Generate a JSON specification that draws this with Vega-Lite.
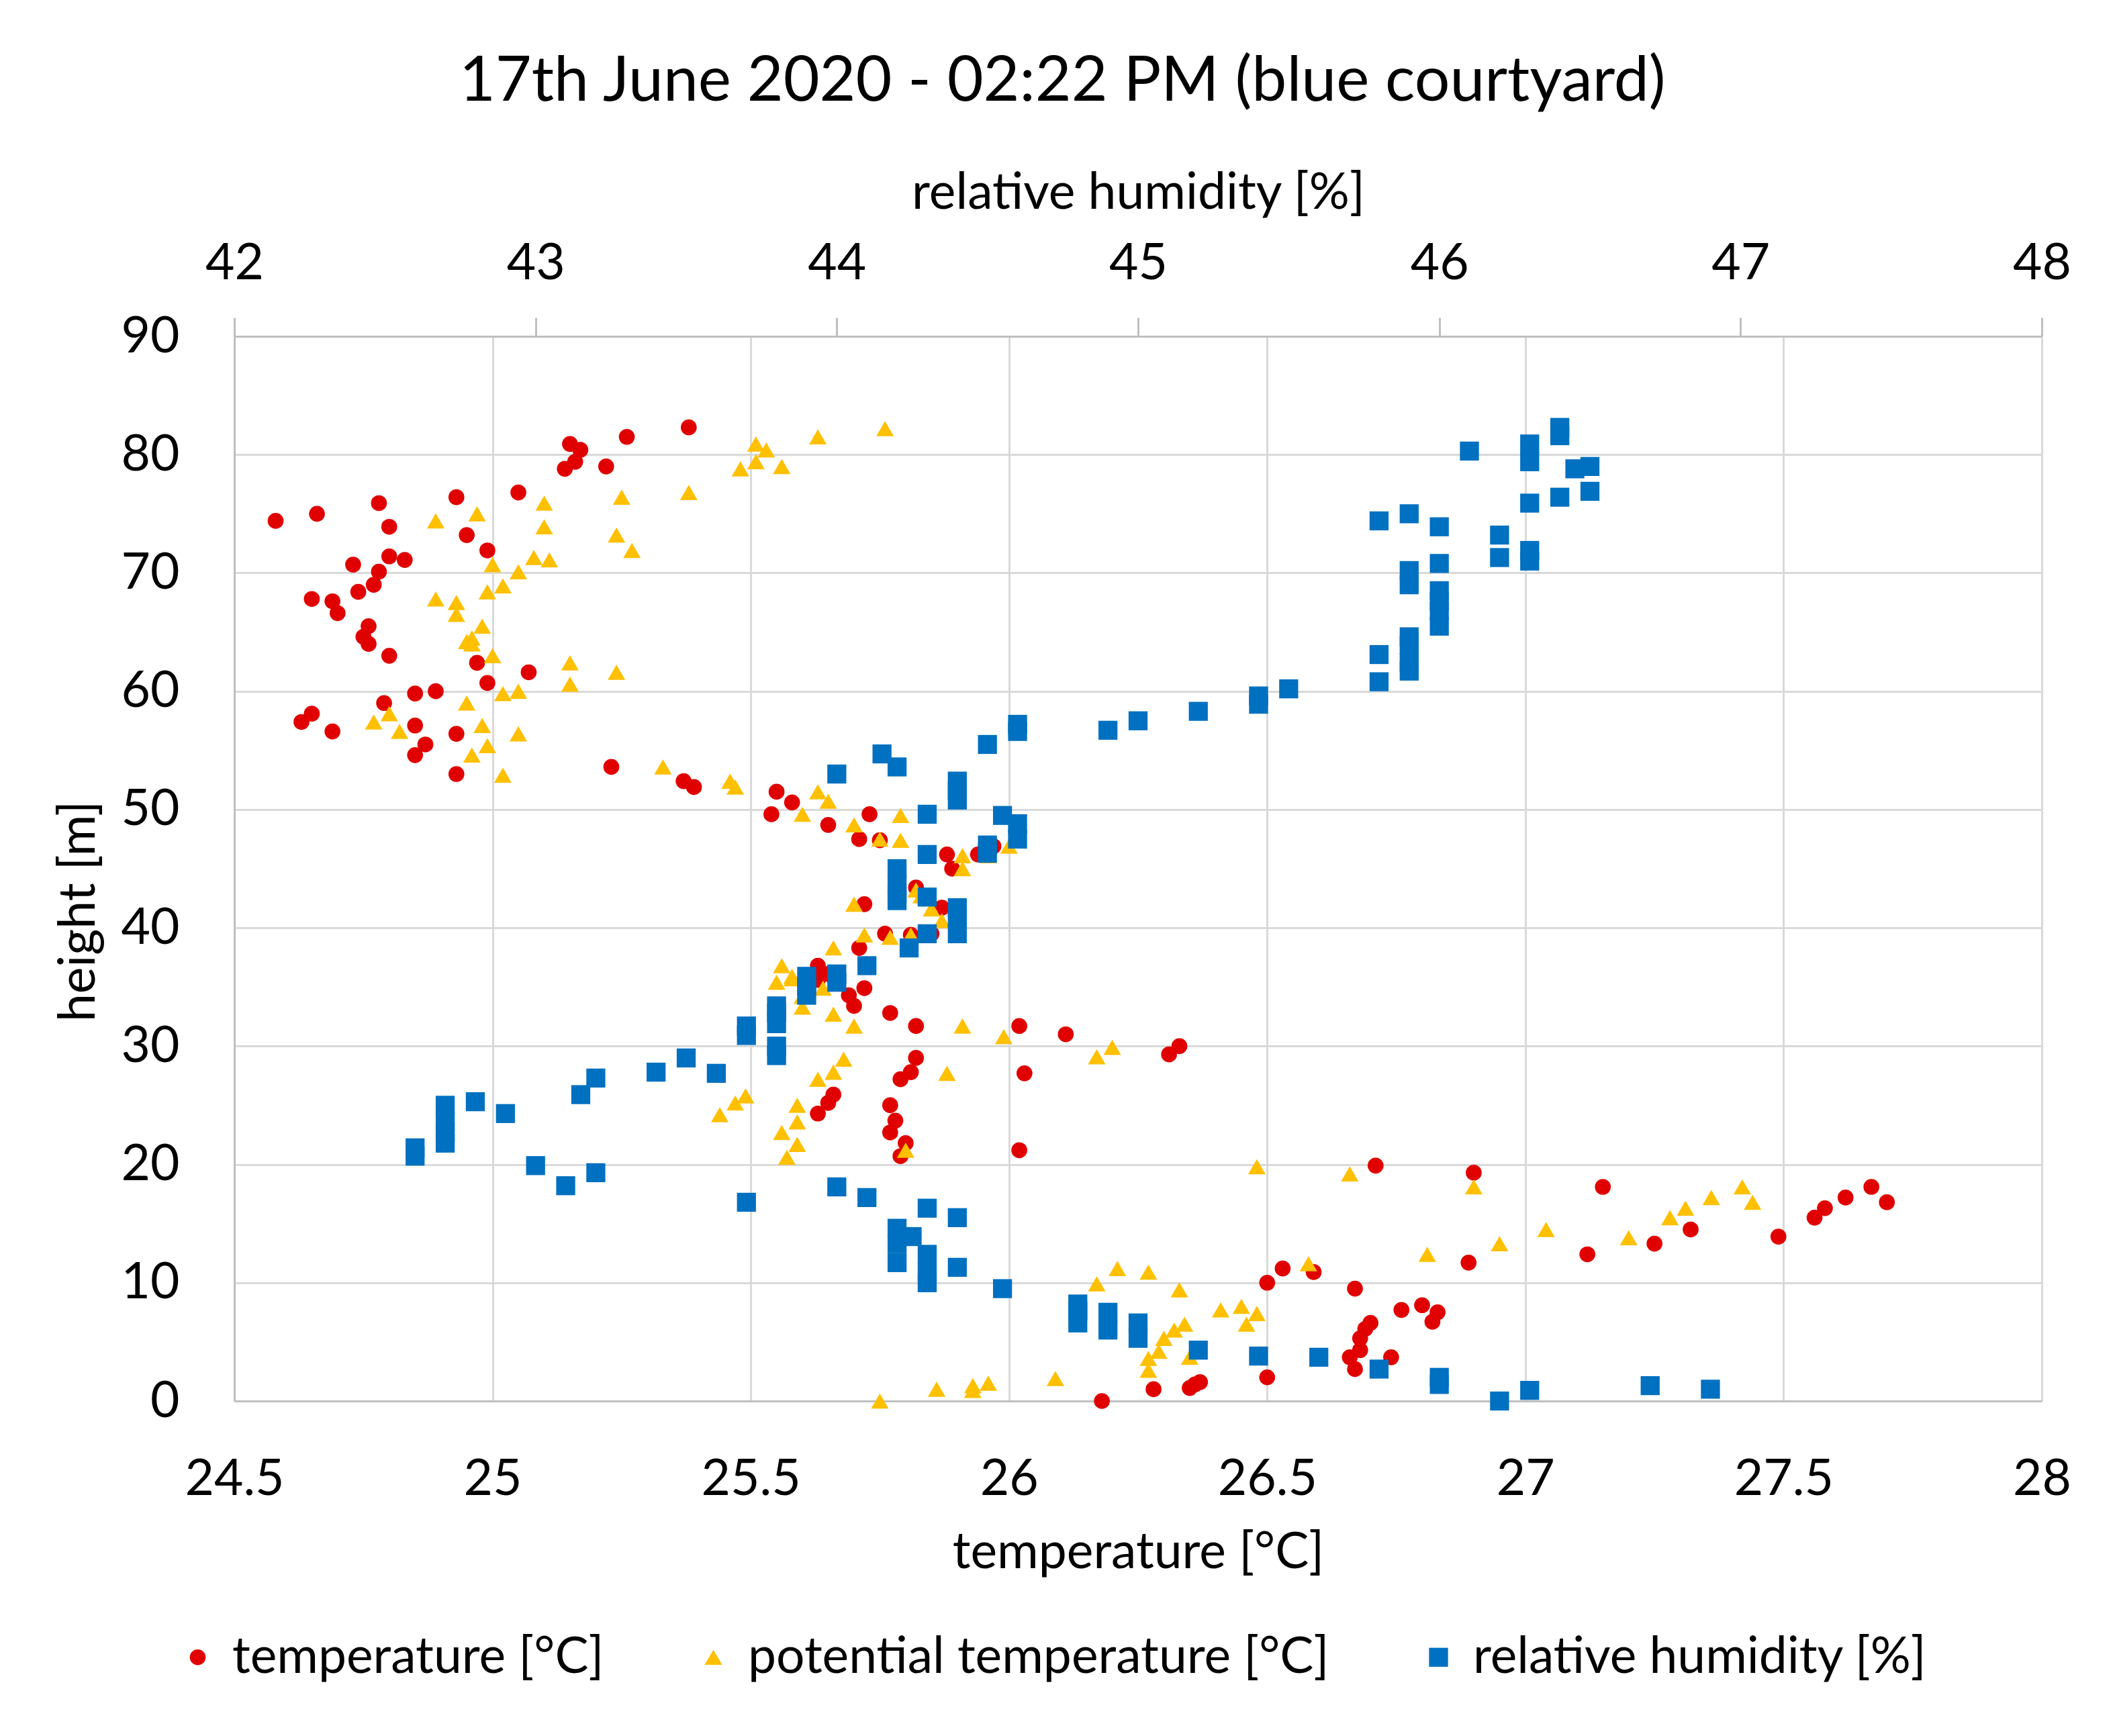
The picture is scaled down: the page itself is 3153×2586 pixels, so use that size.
{
  "$schema": "https://vega.github.io/schema/vega-lite/v6.json",
  "width": 2692,
  "height": 1586,
  "autosize": {"type": "none"},
  "padding": {"left": 349, "top": 501, "right": 112, "bottom": 499},
  "background": "white",
  "title": {
    "text": "17th June 2020 - 02:22 PM (blue courtyard)",
    "font": "Lato",
    "fontSize": 93,
    "fontWeight": "normal",
    "color": "black",
    "anchor": "middle",
    "frame": "bounds",
    "offset": 80
  },
  "datasets": {
    "pts": [
      {"s": "T", "x": 24.58, "h": 74.4}, {"s": "T", "x": 24.66, "h": 75.0}, {"s": "T", "x": 24.78, "h": 75.9}, {"s": "T", "x": 24.93, "h": 76.4},
      {"s": "T", "x": 25.05, "h": 76.8}, {"s": "T", "x": 24.80, "h": 73.9}, {"s": "T", "x": 24.95, "h": 73.2}, {"s": "T", "x": 24.99, "h": 71.9},
      {"s": "T", "x": 25.15, "h": 80.9}, {"s": "T", "x": 25.17, "h": 80.4}, {"s": "T", "x": 25.16, "h": 79.4}, {"s": "T", "x": 25.14, "h": 78.8},
      {"s": "T", "x": 25.22, "h": 79.0}, {"s": "T", "x": 25.26, "h": 81.5}, {"s": "T", "x": 25.38, "h": 82.3}, {"s": "T", "x": 24.73, "h": 70.7},
      {"s": "T", "x": 24.78, "h": 70.1}, {"s": "T", "x": 24.80, "h": 71.4}, {"s": "T", "x": 24.83, "h": 71.1}, {"s": "T", "x": 24.77, "h": 69.0},
      {"s": "T", "x": 24.74, "h": 68.4}, {"s": "T", "x": 24.65, "h": 67.8}, {"s": "T", "x": 24.69, "h": 67.6}, {"s": "T", "x": 24.70, "h": 66.6},
      {"s": "T", "x": 24.76, "h": 65.5}, {"s": "T", "x": 24.75, "h": 64.6}, {"s": "T", "x": 24.76, "h": 64.0}, {"s": "T", "x": 24.80, "h": 63.0},
      {"s": "T", "x": 24.97, "h": 62.4}, {"s": "T", "x": 25.07, "h": 61.6}, {"s": "T", "x": 24.99, "h": 60.7}, {"s": "T", "x": 24.89, "h": 60.0},
      {"s": "T", "x": 24.85, "h": 59.8}, {"s": "T", "x": 24.79, "h": 59.0}, {"s": "T", "x": 24.65, "h": 58.1}, {"s": "T", "x": 24.63, "h": 57.4},
      {"s": "T", "x": 24.69, "h": 56.6}, {"s": "T", "x": 24.85, "h": 57.1}, {"s": "T", "x": 24.93, "h": 56.4}, {"s": "T", "x": 24.87, "h": 55.5},
      {"s": "T", "x": 24.85, "h": 54.6}, {"s": "T", "x": 24.93, "h": 53.0},
      {"s": "T", "x": 25.23, "h": 53.6}, {"s": "T", "x": 25.37, "h": 52.4}, {"s": "T", "x": 25.39, "h": 51.9}, {"s": "T", "x": 25.55, "h": 51.5},
      {"s": "T", "x": 25.58, "h": 50.6}, {"s": "T", "x": 25.54, "h": 49.6}, {"s": "T", "x": 25.73, "h": 49.6}, {"s": "T", "x": 25.65, "h": 48.7},
      {"s": "T", "x": 25.71, "h": 47.5}, {"s": "T", "x": 25.75, "h": 47.4}, {"s": "T", "x": 25.97, "h": 46.9}, {"s": "T", "x": 25.88, "h": 46.2},
      {"s": "T", "x": 25.94, "h": 46.2}, {"s": "T", "x": 25.89, "h": 45.0}, {"s": "T", "x": 25.82, "h": 43.4}, {"s": "T", "x": 25.72, "h": 42.0},
      {"s": "T", "x": 25.87, "h": 41.7}, {"s": "T", "x": 25.90, "h": 40.6}, {"s": "T", "x": 25.76, "h": 39.5}, {"s": "T", "x": 25.81, "h": 39.4},
      {"s": "T", "x": 25.85, "h": 39.5}, {"s": "T", "x": 25.71, "h": 38.3}, {"s": "T", "x": 25.63, "h": 36.8}, {"s": "T", "x": 25.65, "h": 36.1},
      {"s": "T", "x": 25.63, "h": 35.6}, {"s": "T", "x": 25.72, "h": 34.9}, {"s": "T", "x": 25.69, "h": 34.3}, {"s": "T", "x": 25.70, "h": 33.4},
      {"s": "T", "x": 25.77, "h": 32.8}, {"s": "T", "x": 25.82, "h": 31.7}, {"s": "T", "x": 26.02, "h": 31.7}, {"s": "T", "x": 26.11, "h": 31.0},
      {"s": "T", "x": 26.33, "h": 30.0}, {"s": "T", "x": 26.31, "h": 29.3},
      {"s": "T", "x": 25.82, "h": 29.0}, {"s": "T", "x": 25.81, "h": 27.8}, {"s": "T", "x": 25.79, "h": 27.2}, {"s": "T", "x": 26.03, "h": 27.7},
      {"s": "T", "x": 25.66, "h": 25.9}, {"s": "T", "x": 25.65, "h": 25.2}, {"s": "T", "x": 25.63, "h": 24.3}, {"s": "T", "x": 25.77, "h": 25.0},
      {"s": "T", "x": 25.78, "h": 23.7}, {"s": "T", "x": 25.77, "h": 22.7}, {"s": "T", "x": 25.80, "h": 21.8}, {"s": "T", "x": 25.79, "h": 20.7},
      {"s": "T", "x": 26.02, "h": 21.2},
      {"s": "T", "x": 26.71, "h": 19.9}, {"s": "T", "x": 26.90, "h": 19.3}, {"s": "T", "x": 27.15, "h": 18.1}, {"s": "T", "x": 27.67, "h": 18.1},
      {"s": "T", "x": 27.62, "h": 17.2}, {"s": "T", "x": 27.70, "h": 16.8}, {"s": "T", "x": 27.58, "h": 16.3}, {"s": "T", "x": 27.56, "h": 15.5},
      {"s": "T", "x": 27.32, "h": 14.5}, {"s": "T", "x": 27.25, "h": 13.3}, {"s": "T", "x": 27.49, "h": 13.9}, {"s": "T", "x": 27.12, "h": 12.4},
      {"s": "T", "x": 26.89, "h": 11.7}, {"s": "T", "x": 26.53, "h": 11.2}, {"s": "T", "x": 26.59, "h": 10.9}, {"s": "T", "x": 26.50, "h": 10.0},
      {"s": "T", "x": 26.67, "h": 9.5}, {"s": "T", "x": 26.76, "h": 7.7}, {"s": "T", "x": 26.80, "h": 8.1}, {"s": "T", "x": 26.83, "h": 7.5},
      {"s": "T", "x": 26.82, "h": 6.7}, {"s": "T", "x": 26.70, "h": 6.6}, {"s": "T", "x": 26.69, "h": 6.1}, {"s": "T", "x": 26.68, "h": 5.3},
      {"s": "T", "x": 26.68, "h": 4.3}, {"s": "T", "x": 26.66, "h": 3.7}, {"s": "T", "x": 26.74, "h": 3.7}, {"s": "T", "x": 26.67, "h": 2.7},
      {"s": "T", "x": 26.50, "h": 2.0}, {"s": "T", "x": 26.37, "h": 1.6}, {"s": "T", "x": 26.35, "h": 1.1}, {"s": "T", "x": 26.36, "h": 1.4},
      {"s": "T", "x": 26.28, "h": 1.0}, {"s": "T", "x": 26.18, "h": 0.0},

      {"s": "P", "x": 25.76, "h": 82.2}, {"s": "P", "x": 25.63, "h": 81.5}, {"s": "P", "x": 25.51, "h": 80.9}, {"s": "P", "x": 25.53, "h": 80.4},
      {"s": "P", "x": 25.51, "h": 79.4}, {"s": "P", "x": 25.48, "h": 78.8}, {"s": "P", "x": 25.56, "h": 79.0}, {"s": "P", "x": 25.38, "h": 76.8},
      {"s": "P", "x": 25.25, "h": 76.4}, {"s": "P", "x": 25.10, "h": 75.9}, {"s": "P", "x": 24.97, "h": 75.0}, {"s": "P", "x": 24.89, "h": 74.4},
      {"s": "P", "x": 25.10, "h": 73.9}, {"s": "P", "x": 25.24, "h": 73.2}, {"s": "P", "x": 25.27, "h": 71.9}, {"s": "P", "x": 25.08, "h": 71.3},
      {"s": "P", "x": 25.11, "h": 71.1}, {"s": "P", "x": 25.00, "h": 70.7}, {"s": "P", "x": 25.05, "h": 70.1}, {"s": "P", "x": 25.02, "h": 68.9},
      {"s": "P", "x": 24.99, "h": 68.4}, {"s": "P", "x": 24.89, "h": 67.8}, {"s": "P", "x": 24.93, "h": 67.5}, {"s": "P", "x": 24.93, "h": 66.5},
      {"s": "P", "x": 24.98, "h": 65.5}, {"s": "P", "x": 24.96, "h": 64.5}, {"s": "P", "x": 24.96, "h": 64.0}, {"s": "P", "x": 24.95, "h": 64.2},
      {"s": "P", "x": 25.00, "h": 63.0}, {"s": "P", "x": 25.15, "h": 62.4}, {"s": "P", "x": 25.24, "h": 61.6}, {"s": "P", "x": 25.15, "h": 60.6},
      {"s": "P", "x": 25.05, "h": 60.0}, {"s": "P", "x": 25.02, "h": 59.8}, {"s": "P", "x": 24.95, "h": 59.0}, {"s": "P", "x": 24.80, "h": 58.1},
      {"s": "P", "x": 24.77, "h": 57.4}, {"s": "P", "x": 24.82, "h": 56.6}, {"s": "P", "x": 24.98, "h": 57.1}, {"s": "P", "x": 25.05, "h": 56.4},
      {"s": "P", "x": 24.99, "h": 55.4}, {"s": "P", "x": 24.96, "h": 54.6}, {"s": "P", "x": 25.02, "h": 52.9},
      {"s": "P", "x": 25.33, "h": 53.6}, {"s": "P", "x": 25.46, "h": 52.4}, {"s": "P", "x": 25.47, "h": 51.9}, {"s": "P", "x": 25.63, "h": 51.5},
      {"s": "P", "x": 25.65, "h": 50.7}, {"s": "P", "x": 25.60, "h": 49.6}, {"s": "P", "x": 25.79, "h": 49.5}, {"s": "P", "x": 25.70, "h": 48.7},
      {"s": "P", "x": 25.75, "h": 47.5}, {"s": "P", "x": 25.79, "h": 47.4}, {"s": "P", "x": 26.00, "h": 46.9}, {"s": "P", "x": 25.91, "h": 46.1},
      {"s": "P", "x": 25.96, "h": 46.1}, {"s": "P", "x": 25.91, "h": 45.0}, {"s": "P", "x": 25.82, "h": 43.2}, {"s": "P", "x": 25.83, "h": 42.7},
      {"s": "P", "x": 25.70, "h": 42.0}, {"s": "P", "x": 25.85, "h": 41.6}, {"s": "P", "x": 25.87, "h": 40.6}, {"s": "P", "x": 25.72, "h": 39.4},
      {"s": "P", "x": 25.77, "h": 39.2}, {"s": "P", "x": 25.81, "h": 39.4}, {"s": "P", "x": 25.66, "h": 38.3}, {"s": "P", "x": 25.56, "h": 36.8},
      {"s": "P", "x": 25.58, "h": 35.9}, {"s": "P", "x": 25.58, "h": 35.7}, {"s": "P", "x": 25.55, "h": 35.4}, {"s": "P", "x": 25.64, "h": 34.9},
      {"s": "P", "x": 25.60, "h": 34.2}, {"s": "P", "x": 25.60, "h": 33.3}, {"s": "P", "x": 25.66, "h": 32.7}, {"s": "P", "x": 25.70, "h": 31.7},
      {"s": "P", "x": 25.91, "h": 31.7}, {"s": "P", "x": 25.99, "h": 30.8}, {"s": "P", "x": 26.20, "h": 29.9}, {"s": "P", "x": 26.17, "h": 29.1},
      {"s": "P", "x": 25.68, "h": 28.9}, {"s": "P", "x": 25.66, "h": 27.8}, {"s": "P", "x": 25.63, "h": 27.2}, {"s": "P", "x": 25.88, "h": 27.7},
      {"s": "P", "x": 25.49, "h": 25.8}, {"s": "P", "x": 25.47, "h": 25.2}, {"s": "P", "x": 25.44, "h": 24.2}, {"s": "P", "x": 25.59, "h": 25.0},
      {"s": "P", "x": 25.59, "h": 23.6}, {"s": "P", "x": 25.56, "h": 22.7}, {"s": "P", "x": 25.59, "h": 21.7}, {"s": "P", "x": 25.57, "h": 20.6},
      {"s": "P", "x": 25.80, "h": 21.2},
      {"s": "P", "x": 26.48, "h": 19.8}, {"s": "P", "x": 26.66, "h": 19.2}, {"s": "P", "x": 26.90, "h": 18.1}, {"s": "P", "x": 26.95, "h": 13.3},
      {"s": "P", "x": 27.04, "h": 14.5}, {"s": "P", "x": 27.20, "h": 13.8}, {"s": "P", "x": 27.28, "h": 15.5}, {"s": "P", "x": 27.31, "h": 16.3},
      {"s": "P", "x": 27.36, "h": 17.2}, {"s": "P", "x": 27.42, "h": 18.1}, {"s": "P", "x": 27.44, "h": 16.8}, {"s": "P", "x": 26.81, "h": 12.4},
      {"s": "P", "x": 26.58, "h": 11.6}, {"s": "P", "x": 26.21, "h": 11.2}, {"s": "P", "x": 26.27, "h": 10.9}, {"s": "P", "x": 26.17, "h": 9.9},
      {"s": "P", "x": 26.33, "h": 9.4}, {"s": "P", "x": 26.41, "h": 7.7}, {"s": "P", "x": 26.45, "h": 8.0}, {"s": "P", "x": 26.48, "h": 7.4},
      {"s": "P", "x": 26.46, "h": 6.5}, {"s": "P", "x": 26.34, "h": 6.5}, {"s": "P", "x": 26.32, "h": 6.0}, {"s": "P", "x": 26.30, "h": 5.3},
      {"s": "P", "x": 26.29, "h": 4.2}, {"s": "P", "x": 26.27, "h": 3.6}, {"s": "P", "x": 26.35, "h": 3.7}, {"s": "P", "x": 26.27, "h": 2.6},
      {"s": "P", "x": 26.09, "h": 1.9}, {"s": "P", "x": 25.96, "h": 1.5}, {"s": "P", "x": 25.93, "h": 1.3}, {"s": "P", "x": 25.93, "h": 0.9},
      {"s": "P", "x": 25.86, "h": 1.0}, {"s": "P", "x": 25.75, "h": 0.0},

      {"s": "RH", "x": 46.40, "h": 82.3}, {"s": "RH", "x": 46.40, "h": 81.6}, {"s": "RH", "x": 46.30, "h": 80.9}, {"s": "RH", "x": 46.10, "h": 80.3},
      {"s": "RH", "x": 46.30, "h": 79.4}, {"s": "RH", "x": 46.45, "h": 78.8}, {"s": "RH", "x": 46.50, "h": 79.0}, {"s": "RH", "x": 46.50, "h": 76.9},
      {"s": "RH", "x": 46.40, "h": 76.4}, {"s": "RH", "x": 46.30, "h": 75.9}, {"s": "RH", "x": 45.80, "h": 74.4}, {"s": "RH", "x": 45.90, "h": 75.0},
      {"s": "RH", "x": 46.00, "h": 73.9}, {"s": "RH", "x": 46.20, "h": 73.2}, {"s": "RH", "x": 46.20, "h": 71.3}, {"s": "RH", "x": 46.30, "h": 71.9},
      {"s": "RH", "x": 46.30, "h": 71.0}, {"s": "RH", "x": 46.00, "h": 70.8}, {"s": "RH", "x": 45.90, "h": 70.2}, {"s": "RH", "x": 45.90, "h": 69.0},
      {"s": "RH", "x": 46.00, "h": 68.5}, {"s": "RH", "x": 46.00, "h": 67.6}, {"s": "RH", "x": 46.00, "h": 66.8}, {"s": "RH", "x": 46.00, "h": 65.5},
      {"s": "RH", "x": 45.90, "h": 64.6}, {"s": "RH", "x": 45.90, "h": 63.9}, {"s": "RH", "x": 45.80, "h": 63.1}, {"s": "RH", "x": 45.90, "h": 62.4},
      {"s": "RH", "x": 45.90, "h": 61.7}, {"s": "RH", "x": 45.80, "h": 60.8}, {"s": "RH", "x": 45.50, "h": 60.2}, {"s": "RH", "x": 45.40, "h": 59.6},
      {"s": "RH", "x": 45.40, "h": 58.9}, {"s": "RH", "x": 45.20, "h": 58.3}, {"s": "RH", "x": 45.00, "h": 57.5}, {"s": "RH", "x": 44.90, "h": 56.7},
      {"s": "RH", "x": 44.60, "h": 57.2}, {"s": "RH", "x": 44.60, "h": 56.6}, {"s": "RH", "x": 44.50, "h": 55.5}, {"s": "RH", "x": 44.15, "h": 54.7},
      {"s": "RH", "x": 44.20, "h": 53.6}, {"s": "RH", "x": 44.00, "h": 53.0}, {"s": "RH", "x": 44.40, "h": 52.4}, {"s": "RH", "x": 44.40, "h": 51.6},
      {"s": "RH", "x": 44.40, "h": 50.8}, {"s": "RH", "x": 44.30, "h": 49.6}, {"s": "RH", "x": 44.55, "h": 49.5}, {"s": "RH", "x": 44.60, "h": 48.8},
      {"s": "RH", "x": 44.60, "h": 47.5}, {"s": "RH", "x": 44.50, "h": 47.0}, {"s": "RH", "x": 44.50, "h": 46.3}, {"s": "RH", "x": 44.30, "h": 46.2},
      {"s": "RH", "x": 44.20, "h": 45.0}, {"s": "RH", "x": 44.20, "h": 43.6}, {"s": "RH", "x": 44.20, "h": 42.9}, {"s": "RH", "x": 44.20, "h": 42.3},
      {"s": "RH", "x": 44.30, "h": 42.6}, {"s": "RH", "x": 44.40, "h": 41.7}, {"s": "RH", "x": 44.40, "h": 40.9}, {"s": "RH", "x": 44.40, "h": 39.5},
      {"s": "RH", "x": 44.30, "h": 39.5}, {"s": "RH", "x": 44.24, "h": 38.3}, {"s": "RH", "x": 44.10, "h": 36.8}, {"s": "RH", "x": 44.00, "h": 36.1},
      {"s": "RH", "x": 44.00, "h": 35.4}, {"s": "RH", "x": 43.90, "h": 35.9}, {"s": "RH", "x": 43.90, "h": 35.1}, {"s": "RH", "x": 43.90, "h": 34.3},
      {"s": "RH", "x": 43.80, "h": 33.4}, {"s": "RH", "x": 43.80, "h": 32.8}, {"s": "RH", "x": 43.80, "h": 31.9}, {"s": "RH", "x": 43.80, "h": 30.0},
      {"s": "RH", "x": 43.80, "h": 29.2}, {"s": "RH", "x": 43.70, "h": 31.7}, {"s": "RH", "x": 43.70, "h": 30.9}, {"s": "RH", "x": 43.50, "h": 29.0},
      {"s": "RH", "x": 43.40, "h": 27.8}, {"s": "RH", "x": 43.60, "h": 27.7}, {"s": "RH", "x": 43.20, "h": 27.3}, {"s": "RH", "x": 43.15, "h": 25.9},
      {"s": "RH", "x": 42.80, "h": 25.3}, {"s": "RH", "x": 42.70, "h": 25.0}, {"s": "RH", "x": 42.70, "h": 23.6}, {"s": "RH", "x": 42.70, "h": 22.7},
      {"s": "RH", "x": 42.70, "h": 21.8}, {"s": "RH", "x": 42.90, "h": 24.3}, {"s": "RH", "x": 42.60, "h": 21.4}, {"s": "RH", "x": 42.60, "h": 20.7},
      {"s": "RH", "x": 43.00, "h": 19.9}, {"s": "RH", "x": 43.20, "h": 19.3}, {"s": "RH", "x": 43.10, "h": 18.2}, {"s": "RH", "x": 43.70, "h": 16.8},
      {"s": "RH", "x": 44.00, "h": 18.1}, {"s": "RH", "x": 44.10, "h": 17.2}, {"s": "RH", "x": 44.30, "h": 16.3}, {"s": "RH", "x": 44.40, "h": 15.5},
      {"s": "RH", "x": 44.20, "h": 14.6}, {"s": "RH", "x": 44.20, "h": 13.3}, {"s": "RH", "x": 44.20, "h": 11.7}, {"s": "RH", "x": 44.25, "h": 13.9},
      {"s": "RH", "x": 44.30, "h": 12.4}, {"s": "RH", "x": 44.30, "h": 10.9}, {"s": "RH", "x": 44.30, "h": 10.0}, {"s": "RH", "x": 44.40, "h": 11.3},
      {"s": "RH", "x": 44.55, "h": 9.5}, {"s": "RH", "x": 44.80, "h": 8.2}, {"s": "RH", "x": 44.80, "h": 7.6}, {"s": "RH", "x": 44.80, "h": 6.6},
      {"s": "RH", "x": 44.90, "h": 7.5}, {"s": "RH", "x": 44.90, "h": 6.0}, {"s": "RH", "x": 45.00, "h": 6.6}, {"s": "RH", "x": 45.00, "h": 5.3},
      {"s": "RH", "x": 45.20, "h": 4.3}, {"s": "RH", "x": 45.40, "h": 3.8}, {"s": "RH", "x": 45.60, "h": 3.7}, {"s": "RH", "x": 45.80, "h": 2.7},
      {"s": "RH", "x": 46.00, "h": 2.0}, {"s": "RH", "x": 46.00, "h": 1.4}, {"s": "RH", "x": 46.20, "h": 0.0}, {"s": "RH", "x": 46.30, "h": 0.9},
      {"s": "RH", "x": 46.70, "h": 1.3}, {"s": "RH", "x": 46.90, "h": 1.0}
    ]
  },
  "data": {"name": "pts"},
  "encoding": {
    "y": {
      "field": "h",
      "type": "quantitative",
      "scale": {"domain": [0, 90], "nice": false, "zero": false},
      "axis": {
        "values": [0, 10, 20, 30, 40, 50, 60, 70, 80, 90],
        "title": "height [m]",
        "grid": true,
        "ticks": false,
        "tickSize": 0,
        "labelPadding": 82,
        "titleAngle": 270,
        "titleAlign": "center",
        "titleBaseline": "alphabetic",
        "titleX": -209,
        "titleY": 856
      }
    },
    "color": {
      "field": "s",
      "type": "nominal",
      "scale": {"domain": ["T", "P", "RH"], "range": ["#E00000", "#FFC000", "#0070C0"]},
      "legend": {
        "orient": "none",
        "direction": "horizontal",
        "legendX": -92,
        "legendY": 1930,
        "title": null,
        "padding": 0,
        "labelExpr": "datum.label == 'T' ? 'temperature [°C]' : datum.label == 'P' ? 'potential temperature [°C]' : 'relative humidity [%]'",
        "labelLimit": 3000,
        "symbolSize": 420,
        "labelOffset": 14,
        "columnPadding": 125
      }
    },
    "shape": {
      "field": "s",
      "type": "nominal",
      "scale": {"domain": ["T", "P", "RH"], "range": ["circle", "triangle-up", "square"]}
    },
    "size": {
      "field": "s",
      "type": "nominal",
      "scale": {"domain": ["T", "P", "RH"], "range": [560, 800, 330]},
      "legend": null
    }
  },
  "layer": [
    {
      "transform": [{"filter": "datum.s != 'RH'"}],
      "mark": {"type": "point", "filled": true, "opacity": 1, "strokeWidth": 0},
      "encoding": {
        "x": {
          "field": "x",
          "type": "quantitative",
          "scale": {"domain": [24.5, 28], "nice": false, "zero": false},
          "axis": {
            "orient": "bottom",
            "values": [24.5, 25, 25.5, 26, 26.5, 27, 27.5, 28],
            "format": ".1~f",
            "title": "temperature [°C]",
            "grid": true,
            "ticks": false,
            "tickSize": 0,
            "labelPadding": 139,
            "labelBaseline": "alphabetic",
            "labelFlush": false,
            "titleBaseline": "alphabetic",
            "titleX": 1346,
            "titleY": 248
          }
        }
      }
    },
    {
      "transform": [{"filter": "datum.s == 'RH'"}],
      "mark": {"type": "point", "filled": true, "opacity": 1, "strokeWidth": 0},
      "encoding": {
        "x": {
          "field": "x",
          "type": "quantitative",
          "scale": {"domain": [42, 48], "nice": false, "zero": false},
          "axis": {
            "orient": "top",
            "values": [42, 43, 44, 45, 46, 47, 48],
            "title": "relative humidity [%]",
            "grid": false,
            "ticks": true,
            "tickSize": 28,
            "labelPadding": 58,
            "labelBaseline": "alphabetic",
            "labelFlush": false,
            "titleBaseline": "alphabetic",
            "titleX": 1346,
            "titleY": -191
          }
        }
      }
    }
  ],
  "resolve": {"scale": {"x": "independent"}, "axis": {"x": "independent"}},
  "config": {
    "view": {"stroke": null},
    "font": "Lato",
    "axis": {
      "labelFont": "Lato",
      "labelFontSize": 75,
      "labelColor": "black",
      "titleFont": "Lato",
      "titleFontSize": 75,
      "titleFontWeight": "normal",
      "titleColor": "black",
      "gridColor": "#D9D9D9",
      "gridWidth": 3,
      "domainColor": "#BFBFBF",
      "domainWidth": 3,
      "tickColor": "#BFBFBF",
      "tickWidth": 3,
      "labelOverlap": false
    },
    "legend": {
      "labelFont": "Lato",
      "labelFontSize": 75,
      "labelColor": "black",
      "symbolStrokeWidth": 0
    }
  }
}
